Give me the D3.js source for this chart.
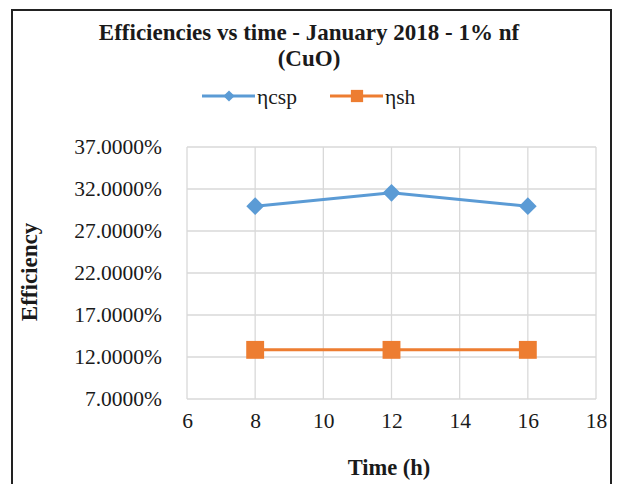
<!DOCTYPE html>
<html>
<head>
<meta charset="utf-8">
<script src="https://cdn.jsdelivr.net/npm/d3@7"></script>
<style>
  html, body { margin: 0; padding: 0; background: #fff; }
  svg { display: block; }
</style>
</head>
<body>
<svg id="chart" width="619" height="484"></svg>
<script>
// Sample times (hours)
const hours = [8, 12, 16];
// Efficiency series (fractions)
const etaCsp = [0.2995, 0.3155, 0.2995];
const etaSh = [0.1285, 0.1285, 0.1285];
const seriesNames = ["ηcsp", "ηsh"];
const seriesColors = ["#5b9bd5", "#ed7d31"];
const yTicks = [0.07, 0.12, 0.17, 0.22, 0.27, 0.32, 0.37];
const xTicks = [6, 8, 10, 12, 14, 16, 18];

const FONT = '"Liberation Serif", "Times New Roman", serif';
const svg = d3.select("#chart");
const H = 484;
const plot = { left: 187, right: 596, top: 147, bottom: 399 };

// apply the serif face to a text selection
function serif(sel, size, bold) {
  return sel.style("font-family", FONT).style("font-size", size + "px")
    .style("font-weight", bold ? "bold" : "normal").style("fill", "#1a1a1a");
}

// outer frame
svg.append("rect")
  .attr("x", 12).attr("y", 10).attr("width", 599).attr("height", H)
  .attr("fill", "none").attr("stroke", "#222").attr("stroke-width", 2);

const x = d3.scaleLinear().domain([6, 18]).range([plot.left, plot.right]);
const y = d3.scaleLinear().domain([0.07, 0.37]).range([plot.bottom, plot.top]);

// gridlines
const grid = svg.append("g").attr("stroke", "#d9d9d9").attr("stroke-width", 1.3);
grid.selectAll("line.h").data(yTicks).join("line")
  .attr("x1", plot.left).attr("x2", plot.right)
  .attr("y1", d => y(d)).attr("y2", d => y(d));
grid.selectAll("line.v").data(xTicks).join("line")
  .attr("y1", plot.top).attr("y2", plot.bottom)
  .attr("x1", d => x(d)).attr("x2", d => x(d));

// axes (labels only, no domain lines)
const yAxis = svg.append("g")
  .attr("transform", `translate(${plot.left},0)`)
  .call(d3.axisLeft(y).tickValues(yTicks).tickSize(0).tickPadding(25)
    .tickFormat(d => (d * 100).toFixed(4) + "%"));
const xAxis = svg.append("g")
  .attr("transform", `translate(0,${plot.bottom})`)
  .call(d3.axisBottom(x).tickValues(xTicks).tickSize(0).tickPadding(14));
[yAxis, xAxis].forEach(a => {
  a.select(".domain").remove();
  serif(a.selectAll("text"), 21.5, false);
});

// series lines
const series = [etaCsp, etaSh];
const line = d3.line().x((d, i) => x(hours[i])).y(d => y(d));
series.forEach((vals, s) => {
  svg.append("path").datum(vals)
    .attr("d", line).attr("fill", "none")
    .attr("stroke", seriesColors[s]).attr("stroke-width", 3);
});
// markers
const diamond = d3.symbol().type(d3.symbolDiamond2).size(200);
const square = d3.symbol().type(d3.symbolSquare).size(320);
svg.append("g").selectAll("path").data(etaCsp).join("path")
  .attr("d", diamond)
  .attr("transform", (d, i) => `translate(${x(hours[i])},${y(d)})`)
  .attr("fill", seriesColors[0]);
svg.append("g").selectAll("path").data(etaSh).join("path")
  .attr("d", square)
  .attr("transform", (d, i) => `translate(${x(hours[i])},${y(d)})`)
  .attr("fill", seriesColors[1]);

// title
const title = serif(svg.append("text").attr("text-anchor", "middle"), 23, true);
title.append("tspan").attr("x", 309).attr("y", 40).text("Efficiencies vs time - January 2018 - 1% nf");
title.append("tspan").attr("x", 309).attr("y", 66).text("(CuO)");

// legend
const legendSyms = [d3.symbol().type(d3.symbolDiamond2).size(80), d3.symbol().type(d3.symbolSquare).size(150)];
const legendX = [202, 330];
seriesNames.forEach((name, i) => {
  const g = svg.append("g").attr("transform", `translate(${legendX[i]},96)`);
  g.append("line").attr("x1", 0).attr("x2", 53).attr("stroke", seriesColors[i]).attr("stroke-width", 3);
  g.append("path").attr("d", legendSyms[i]).attr("transform", "translate(27,0)").attr("fill", seriesColors[i]);
  serif(g.append("text").attr("x", 55).attr("y", 8), 21.5, false).text(name);
});

// axis titles
serif(svg.append("text").attr("transform", "translate(37,272) rotate(-90)")
  .attr("text-anchor", "middle"), 23, true).text("Efficiency");
serif(svg.append("text").attr("x", 389).attr("y", 475)
  .attr("text-anchor", "middle"), 22.5, true).text("Time (h)");
</script>
</body>
</html>
